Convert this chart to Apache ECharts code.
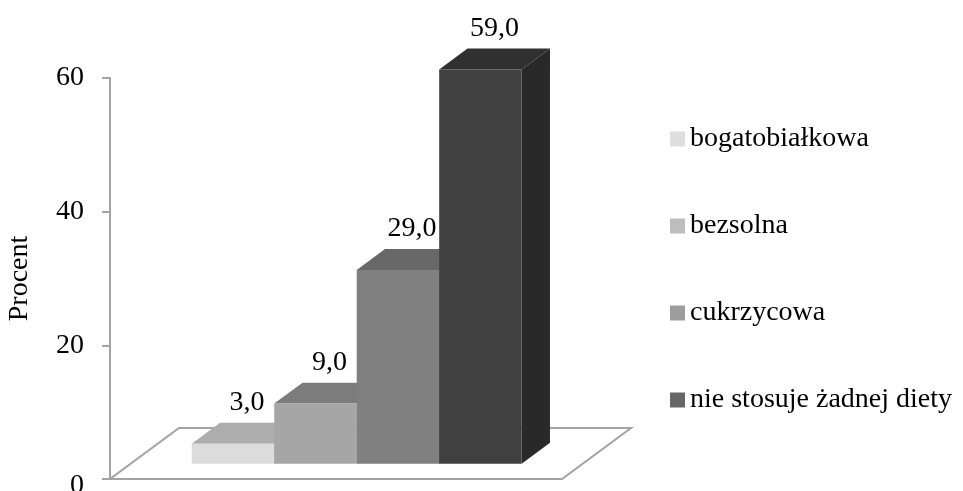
<!DOCTYPE html>
<html>
<head>
<meta charset="utf-8">
<script src="https://cdn.jsdelivr.net/npm/echarts@6/dist/echarts.min.js"></script>
<style>
  html, body { margin: 0; padding: 0; background: #fff; }
  #chart { width: 963px; height: 491px; }
</style>
</head>
<body>
<div id="chart"></div>
<script>
// Diet types (one series each) and share of respondents in percent
const categories = ['Dieta'];
const seriesNames = ['bogatobiałkowa', 'bezsolna', 'cukrzycowa', 'nie stosuje żadnej diety'];
const seriesValues = [3.0, 9.0, 29.0, 59.0];
const yTicks = [0, 20, 40, 60];

const FONT = '"Liberation Serif", "Times New Roman", serif';

// Oblique depth of the floor, and the slab of depth the columns occupy
const DEPTH = [69, -51];
const F_FRONT = 0.30;
const F_BACK = 0.71;
const GROUP_SHARE = 0.73;

const legendColors = ['#dedede', '#bdbdbd', '#9d9d9d', '#666666'];
const faceColors = [
  { front: '#dcdcdc', top: '#adadad', side: '#bcbcbc' },
  { front: '#a6a6a6', top: '#7c7c7c', side: '#8a8a8a' },
  { front: '#808080', top: '#686868', side: '#5a5a5a' },
  { front: '#404040', top: '#303030', side: '#292929' }
];

function fmt(v) {
  return v.toFixed(1).replace('.', ',');
}

function floorRenderer(params, api) {
  const base = api.coord([0, 0]);
  const band = api.size([1, 0])[0];
  const x0 = base[0] - band / 2, x1 = base[0] + band / 2, y = base[1];
  return {
    type: 'polygon',
    shape: {
      points: [
        [x0, y], [x1, y],
        [x1 + DEPTH[0], y + DEPTH[1]], [x0 + DEPTH[0], y + DEPTH[1]]
      ]
    },
    style: { fill: 'none', stroke: '#a3a3a3', lineWidth: 2 },
    silent: true
  };
}

function barRenderer(idx) {
  return function (params, api) {
    const value = api.value(1);
    const base = api.coord([api.value(0), 0]);
    const top = api.coord([api.value(0), value]);
    const band = api.size([1, 0])[0];
    const w = band * GROUP_SHARE / seriesNames.length;
    const xl = base[0] - band * GROUP_SHARE / 2 + idx * w + F_FRONT * DEPTH[0];
    const xr = xl + w;
    const yb = base[1] + F_FRONT * DEPTH[1];
    const yt = top[1] + F_FRONT * DEPTH[1];
    const dx = (F_BACK - F_FRONT) * DEPTH[0];
    const dy = (F_BACK - F_FRONT) * DEPTH[1];
    const c = faceColors[idx];
    return {
      type: 'group',
      children: [
        {
          type: 'polygon',
          shape: { points: [[xr, yt], [xr + dx, yt + dy], [xr + dx, yb + dy], [xr, yb]] },
          style: { fill: c.side }
        },
        {
          type: 'polygon',
          shape: { points: [[xl, yt], [xl + dx, yt + dy], [xr + dx, yt + dy], [xr, yt]] },
          style: { fill: c.top }
        },
        {
          type: 'rect',
          shape: { x: xl, y: yt, width: w, height: yb - yt },
          style: { fill: c.front }
        },
        {
          type: 'text',
          style: {
            x: (xl + xr) / 2 + dx * 0.5,
            y: yt + dy - 20,
            text: fmt(value),
            fill: '#000',
            font: '28px ' + FONT,
            textAlign: 'center',
            textVerticalAlign: 'middle'
          }
        }
      ]
    };
  };
}

const series = [{
  type: 'custom',
  name: '_floor',
  renderItem: floorRenderer,
  data: [[0, 0]],
  encode: { x: 0, y: 1 },
  silent: true,
  z: 1
}];

seriesNames.forEach(function (name, i) {
  series.push({
    type: 'custom',
    name: name,
    renderItem: barRenderer(i),
    data: [[0, seriesValues[i]]],
    encode: { x: 0, y: 1 },
    itemStyle: { color: legendColors[i] },
    z: 2 + i
  });
});

const chart = echarts.init(document.getElementById('chart'), null, { renderer: 'canvas' });
chart.setOption({
  animation: false,
  backgroundColor: '#ffffff',
  grid: {
    left: 110, right: 401, top: 78, bottom: 12,
    containLabel: false,
    outerBoundsMode: 'none'
  },
  xAxis: {
    type: 'category',
    data: categories,
    axisLine: { show: false },
    axisTick: { show: false },
    axisLabel: { show: false },
    splitLine: { show: false }
  },
  yAxis: {
    type: 'value',
    min: yTicks[0],
    max: yTicks[yTicks.length - 1],
    interval: yTicks[1] - yTicks[0],
    name: 'Procent',
    nameLocation: 'middle',
    nameRotate: 90,
    nameGap: 76,
    nameTextStyle: { fontFamily: FONT, fontSize: 28, color: '#000' },
    axisLine: { show: true, lineStyle: { color: '#a3a3a3', width: 2 } },
    axisTick: { show: true, length: 8, lineStyle: { color: '#a3a3a3', width: 2 } },
    axisLabel: {
      fontFamily: FONT, fontSize: 28, color: '#000', margin: 26,
      formatter: function (v) { return v === 0 ? '{low|0}' : String(v); },
      rich: { low: { fontFamily: FONT, fontSize: 28, color: '#000', padding: [14, 0, 0, 0] } }
    },
    splitLine: { show: false }
  },
  legend: {
    data: seriesNames,
    orient: 'vertical',
    left: 665,
    top: 119,
    itemWidth: 15,
    itemHeight: 15,
    itemGap: 57,
    icon: 'rect',
    selectedMode: false,
    textStyle: { fontFamily: FONT, fontSize: 28, color: '#000', lineHeight: 30 }
  },
  series: series
});
</script>
</body>
</html>
